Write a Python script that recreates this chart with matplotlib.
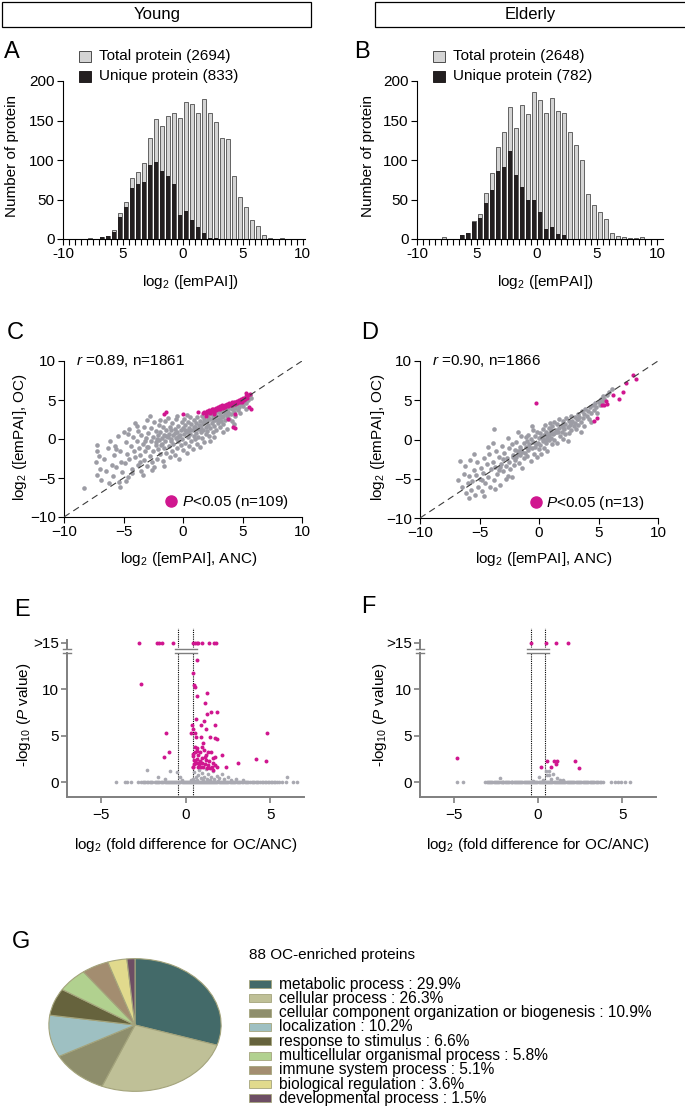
import matplotlib
matplotlib.use("Agg")
import matplotlib.pyplot as plt
import numpy as np
from matplotlib.patches import Rectangle
from matplotlib.lines import Line2D

plt.rcParams['font.family'] = ['Liberation Sans', 'DejaVu Sans']
plt.rcParams['mathtext.fontset'] = 'custom'
plt.rcParams['mathtext.rm'] = 'Liberation Sans'
plt.rcParams['mathtext.it'] = 'Liberation Sans:italic'
plt.rcParams['font.size'] = 11

NARROW = ['Liberation Sans Narrow', 'Liberation Sans', 'DejaVu Sans']

# ---------------- data ----------------
bin_centers = [-7.75, -7.25, -6.75, -6.25, -5.75, -5.25, -4.75, -4.25, -3.75, -3.25,
               -2.75, -2.25, -1.75, -1.25, -0.75, -0.25, 0.25, 0.75, 1.25, 1.75,
               2.25, 2.75, 3.25, 3.75, 4.25, 4.75, 5.25, 5.75, 6.25, 6.75,
               7.25, 7.75, 8.25, 8.75]
young_total = [1, 0, 3, 4, 12, 33, 47, 77, 85, 96, 128, 152, 143, 156, 159, 153, 173, 171,
               160, 177, 160, 148, 128, 126, 80, 53, 40, 24, 17, 5, 1, 0, 1, 0]
young_unique = [0, 0, 3, 4, 9, 28, 40, 64, 69, 72, 94, 98, 86, 80, 70, 31, 36, 24,
                15, 7, 1, 1, 0, 0, 0, 0, 0, 0, 0, 0, 0, 0, 0, 0]
old_total = [2, 0, 0, 5, 8, 23, 32, 58, 83, 117, 135, 167, 141, 169, 158, 186, 176, 160,
             178, 162, 160, 135, 119, 100, 57, 43, 34, 25, 8, 4, 2, 1, 1, 3]
old_unique = [0, 0, 0, 5, 7, 21, 27, 45, 62, 86, 91, 112, 81, 66, 50, 50, 34, 13,
              15, 6, 5, 0, 0, 0, 0, 0, 0, 0, 0, 0, 0, 0, 0, 0]
hist_xticklabels = ['-10', '5', '0', '5', '10']

# scatter C (young): grey cloud and significant points
young_gx = [-8.3, -7.2, -7.2, -7.1, -7.3, -7.0, -7.2, -6.9, -6.6, -6.5, -6.3, -6.2, -6.0, -6.1,
            -5.9, -5.8, -5.7, -5.6, -5.5, -5.4, -5.3, -5.2, -5.1, -5.0, -5.6, -5.3,
            -4.9, -4.8, -4.7, -4.6, -4.5, -4.5, -4.4, -4.3, -4.2, -4.1, -4.0, -4.0, -4.8, -4.3, -4.6,
            -3.9, -3.8, -3.8, -3.7, -3.6, -3.5, -3.5, -3.4, -3.3, -3.3, -3.2, -3.1, -3.0, -3.0, -3.6,
            -3.9, -3.2, -3.4,
            -2.9, -2.9, -2.8, -2.7, -2.7, -2.6, -2.5, -2.5, -2.4, -2.3, -2.3, -2.2, -2.1, -2.1, -2.0,
            -2.0, -2.6, -2.8, -2.4, -2.2,
            -1.9, -1.9, -1.8, -1.8, -1.7, -1.7, -1.6, -1.6, -1.5, -1.5, -1.4, -1.4, -1.3, -1.3, -1.2,
            -1.2, -1.1, -1.1, -1.0, -1.0, -1.6, -1.9,
            -0.9, -0.9, -0.8, -0.8, -0.7, -0.7, -0.6, -0.6, -0.5, -0.5, -0.4, -0.4, -0.3, -0.3, -0.2,
            -0.2, -0.1, -0.1, 0.0, 0.0, -0.5,
            0.1, 0.1, 0.2, 0.2, 0.3, 0.3, 0.4, 0.4, 0.5, 0.5, 0.6, 0.6, 0.7, 0.7, 0.8, 0.8, 0.9, 0.9,
            1.0, 1.0, 0.3,
            1.1, 1.1, 1.2, 1.2, 1.3, 1.3, 1.4, 1.4, 1.5, 1.5, 1.6, 1.6, 1.7, 1.7, 1.8, 1.8, 1.9, 1.9,
            2.0, 2.0,
            2.1, 2.1, 2.2, 2.2, 2.3, 2.4, 2.4, 2.5, 2.5, 2.6, 2.7, 2.7, 2.8, 2.8, 2.9, 3.0, 3.0, 2.3, 2.6,
            3.1, 3.1, 3.2, 3.3, 3.3, 3.4, 3.5, 3.5, 3.6, 3.7, 3.7, 3.8, 3.9, 3.9, 4.0, 3.4,
            4.1, 4.1, 4.2, 4.3, 4.4, 4.4, 4.5, 4.6, 4.7, 4.7, 4.8, 4.9, 5.0, 5.0, 4.3,
            5.1, 5.2, 5.3, 5.4, 5.5, 5.6, 5.3, 5.7,
            -1.45, -0.65, 0.15, 0.95, 1.75, 2.55, 3.35, -2.25, -3.05, -0.25, 0.55, 1.35, 2.15,
            -1.05, -1.85, 2.95, 3.75, 0.35, 1.55, -0.45]
young_gy = [-6.3, -0.8, -1.5, -2.2, -3.0, -3.8, -4.6, -5.2, -2.6, -4.1, -1.2, -5.6, -3.3, -0.2,
            -4.8, -2.1, -0.9, -3.6, 0.4, -5.5, -1.6, -2.9, -4.2, 0.9, -1.3, -6.1,
            -3.1, -0.4, -1.9, -4.9, 1.3, -2.6, -0.9, -3.8, 0.3, -1.5, -2.3, 2.1, -5.4, -4.4, 0.6,
            -0.2, -3.3, 1.0, -1.2, -2.0, 0.5, -4.1, -0.7, 1.6, -2.7, -1.6, 0.1, -3.5, 2.4, -2.9,
            1.7, -0.3, -4.6,
            -1.0, 0.8, -2.2, 1.4, -0.3, -3.0, 0.2, -1.6, 2.2, -0.8, 1.0, -2.5, 0.5, -1.3, 1.8,
            -0.1, -4.0, 2.9, -3.6, 0.0,
            -1.9, 0.9, 0.1, -0.7, 1.5, -2.8, 0.5, -1.2, 2.3, -0.3, 1.1, -1.8, 0.2, 2.7, -0.9,
            0.7, 1.6, -2.3, 0.0, 1.2, -3.5, 2.5,
            -1.5, 2.0, 0.5, -0.6, 1.3, -2.0, 0.1, 2.6, 0.9, -1.1, 1.7, -0.3, 0.4, -2.6, 1.1,
            -0.8, 2.2, 0.0, 1.4, -1.4, 3.0,
            0.6, 2.6, -0.5, 1.8, 1.0, -1.8, 0.2, 2.2, 1.4, -0.9, 0.7, 2.8, 1.9, -0.2, 1.2, -1.3, 2.4, 0.4,
            1.6, 0.0, 3.1,
            2.0, 0.8, -0.6, 2.8, 1.3, 0.3, 2.3, -1.0, 1.7, 0.9, 2.9, 0.1, 2.1, 1.2, -0.4, 2.6, 1.6, 0.6,
            2.3, 1.0,
            3.0, 1.8, 0.4, 2.6, 1.4, 3.2, 2.1, 0.9, 2.8, 1.7, 3.3, 2.4, 1.2, 3.0, 2.0, 3.5, 2.6, -0.2, 0.3,
            1.6, 3.1, 2.3, 3.6, 2.8, 1.9, 3.3, 2.5, 3.9, 2.9, 1.3, 3.5, 2.6, 4.0, 3.2, 0.9,
            3.8, 2.3, 4.2, 3.4, 4.0, 2.9, 4.4, 3.7, 4.6, 4.1, 3.3, 4.5, 4.9, 4.2, 1.9,
            4.7, 5.1, 4.6, 5.3, 5.0, 5.6, 3.9, 5.2,
            0.4, 0.8, 1.2, 1.6, 2.2, 2.4, 3.0, -0.4, -1.0, 0.5, 1.1, 1.8, 2.6,
            -0.3, -0.8, 2.4, 3.2, 0.9, 1.3, 0.3]
young_sx = [1.7, 1.8, 1.9, 2.0, 2.1, 2.2, 2.25, 2.3, 2.4, 2.5, 2.55, 2.6, 2.7, 2.75, 2.8, 2.9,
            2.95, 3.0, 3.1, 3.15, 3.2, 3.3, 3.35, 3.4, 3.5, 3.55, 3.6, 3.7, 3.75, 3.8, 3.9, 3.95,
            4.0, 4.1, 4.15, 4.2, 4.3, 4.35, 4.4, 4.5, 4.55, 4.6, 4.7, 4.75, 4.8, 4.9, 4.95, 5.0,
            5.1, 5.2, 5.25, 5.3, 5.4, 5.5, 5.6,
            -1.4, -1.6, 0.0, 1.3, 4.4, 3.8, 4.2, 4.4, 5.55, 5.7, 5.3, 1.9, 2.6]
young_sy = [3.3, 3.5, 3.2, 3.6, 3.4, 3.7, 3.3, 3.5, 3.8, 3.6, 3.9, 3.5, 3.8, 4.0, 3.7, 4.1,
            3.8, 4.0, 4.2, 3.9, 4.1, 4.3, 4.0, 4.2, 4.4, 4.1, 4.3, 4.5, 4.2, 4.4, 4.6, 4.3,
            4.5, 4.7, 4.4, 4.6, 4.8, 4.5, 4.7, 4.9, 4.6, 4.8, 5.0, 4.7, 4.9, 5.1, 4.8, 5.2,
            5.0, 5.3, 5.1, 5.5, 5.2, 5.6, 5.8,
            3.5, 3.2, 3.15, 3.4, 3.15, 2.6, 1.6, 1.4, 4.05, 3.8, 5.9, 3.0, 3.2]

# scatter D (elderly)
old_gx = [-6.8, -6.5, -6.3, -6.1, -6.0, -6.6, -6.2,
          -5.9, -5.8, -5.7, -5.6, -5.5, -5.4, -5.3, -5.2, -5.1, -5.0, -5.5, -5.9,
          -4.9, -4.8, -4.7, -4.6, -4.5, -4.4, -4.3, -4.2, -4.1, -4.0, -4.6, -4.3, -4.8,
          -3.9, -3.8, -3.7, -3.6, -3.5, -3.4, -3.3, -3.2, -3.1, -3.0, -3.0, -3.7, -3.4, -3.9, -3.8,
          -2.9, -2.8, -2.7, -2.6, -2.5, -2.5, -2.4, -2.3, -2.2, -2.1, -2.0, -2.0, -2.6, -2.8, -2.3,
          -1.9, -1.9, -1.8, -1.7, -1.6, -1.6, -1.5, -1.5, -1.4, -1.3, -1.3, -1.2, -1.1, -1.1, -1.0,
          -1.0, -1.8,
          -0.9, -0.9, -0.8, -0.7, -0.7, -0.6, -0.5, -0.5, -0.4, -0.3, -0.3, -0.2, -0.2, -0.1, 0.0,
          0.0, -0.6,
          0.1, 0.1, 0.2, 0.2, 0.3, 0.3, 0.4, 0.4, 0.5, 0.5, 0.6, 0.6, 0.7, 0.7, 0.8, 0.8, 0.9, 0.9,
          1.0, 1.0,
          1.1, 1.1, 1.2, 1.3, 1.3, 1.4, 1.5, 1.5, 1.6, 1.7, 1.7, 1.8, 1.9, 1.9, 2.0, 2.0,
          2.1, 2.2, 2.2, 2.3, 2.4, 2.5, 2.5, 2.6, 2.7, 2.7, 2.8, 2.9, 3.0, 3.0, 2.4,
          3.1, 3.2, 3.3, 3.3, 3.4, 3.5, 3.6, 3.7, 3.8, 3.8, 3.9, 4.0, 3.5,
          4.1, 4.2, 4.3, 4.4, 4.5, 4.6, 4.7, 4.8, 4.9, 5.0, 5.1, 5.2, 5.3, 5.4, 5.5, 5.7, 5.9,
          6.1, 4.4,
          -2.15, -1.45, -0.85, -0.25, 0.35, 0.85, 1.45, 2.05, 2.65, 3.25, -3.25, -1.75, 0.65, 1.25]
old_gy = [-5.2, -6.0, -4.4, -6.8, -5.6, -2.8, -3.4,
          -4.7, -2.6, -6.4, -5.3, -3.9, -7.1, -4.5, -2.9, -6.0, -5.0, -1.9, -7.4,
          -3.6, -6.6, -4.3, -2.4, -5.5, -3.1, -4.8, -1.8, -6.1, -3.8, -7.2, -0.9, -5.1,
          -2.9, -5.2, -3.5, -1.5, -4.4, -2.2, -5.8, -3.1, -0.8, -4.0, -2.5, -6.3, -3.9, -0.5, 1.3,
          -1.7, -3.4, -2.3, -4.6, -1.1, -2.9, -3.8, -0.6, -2.0, -3.2, -1.4, -2.6, 0.2, -5.0, -4.8,
          -0.3, -2.2, -1.5, -3.0, -0.9, -2.0, 0.4, -1.3, -3.6, -2.4, -0.5, -1.7, 0.3, -1.0, -2.1,
          -0.2, 1.0,
          -1.4, 0.6, -0.6, -2.7, 0.1, -1.1, 1.2, -0.3, -1.8, 0.4, -0.9, -2.2, 0.9, -0.4, 0.2,
          -1.2, 1.7,
          0.8, -0.7, -1.9, 0.3, 1.4, -0.2, -1.1, 0.6, 1.9, 0.0, -0.5, 1.0, -1.5, 0.4, 1.5, -0.1, 0.8, 2.1,
          0.2, 1.2,
          -0.6, 1.7, 0.7, 2.2, 0.0, 1.2, -0.4, 2.0, 0.9, 1.5, 2.6, 0.4, 1.9, 1.0, 2.4, 0.1,
          1.4, 2.0, 0.7, 2.8, 1.6, 2.3, 0.8, 1.9, 3.0, 1.2, 2.4, 1.7, 2.9, 2.1, -0.2,
          1.4, 2.6, 3.3, 1.9, 2.9, 2.2, 3.6, 2.8, 3.3, 1.7, 3.9, 3.0, 0.9,
          3.6, 2.6, 4.1, 3.4, 4.4, 3.8, 4.7, 4.2, 3.4, 4.8, 4.4, 5.2, 4.8, 5.5, 5.1, 5.7, 6.0,
          6.4, 2.2,
          -2.2, -1.6, -0.9, -0.6, 0.1, 0.6, 1.0, 1.6, 2.1, 2.6, -3.5, -1.9, 0.1, 0.8]
old_sx = [-0.25, 7.9, 8.15, 7.3, 7.1, 6.7, 6.2, 5.6, 5.5, 5.3, 4.9, 4.6, 5.7]
old_sy = [4.67, 8.2, 7.7, 7.2, 6.1, 5.1, 5.7, 4.9, 4.4, 4.4, 2.8, 2.3, 4.5]
identity = [-10, 10]

# volcano E (young)
fold_cut = 0.42
young_row_x = [-4.1, -3.6, -3.45, -3.2, -2.8, -2.65, -2.5, -2.43, -2.38, -2.3, -2.2, -2.1, -2.03,
               -1.95, -1.83, -1.76, -1.7, -1.62, -1.55, -1.47, -1.38, -1.3, -1.23, -1.18, -1.1,
               -1.05, -0.98, -0.92, -0.86, -0.8, -0.72, -0.66, -0.6, -0.55, -0.48, -0.41, -0.36,
               -0.3, -0.23, -0.17, -0.11, -0.05, 0.02, 0.08, 0.13, 0.19, 0.25, 0.31, 0.37, 0.44,
               0.5, 0.55, 0.61, 0.68, 0.73, 0.79, 0.85, 0.91, 0.97, 1.04, 1.1, 1.15, 1.21, 1.28,
               1.33, 1.39, 1.45, 1.52, 1.58, 1.63, 1.7, 1.77, 1.83, 1.88, 1.95, 2.01, 2.07, 2.14,
               2.2, 2.26, 2.33, 2.4, 2.47, 2.53, 2.6, 2.67, 2.73, 2.8, 2.88, 2.95, 3.03,
               3.1, 3.17, 3.24, 3.33, 3.41, 3.49, 3.57, 3.64, 3.72, 3.81, 3.9, 3.97, 4.05, 4.14,
               4.23, 4.31, 4.4, 4.49, 4.58, 4.67, 4.77, 4.86, 4.95, 5.03, 5.12, 5.21,
               5.3, 5.4, 5.5, 5.72, 5.95, 6.35, 6.6]
young_low_x = [0.45, 0.6, 0.75, 0.9, 1.0, 1.1, 1.25, 1.35, 1.5, 1.6, 1.7, 1.85, 2.0, 2.15,
               2.3, 2.5, 2.7, 0.5, 0.8, 1.2, -0.3, -0.5, -0.9, -2.3, -1.6, -1.2, 3.0, 3.4, 6.0,
               0.3, 0.55, 1.45, 1.9, -0.2, 0.7, 1.05]
young_low_y = [0.3, 0.5, 0.8, 0.4, 1.0, 0.6, 0.3, 0.9, 0.5, 1.2, 0.3, 0.7, 0.4, 0.9,
               0.3, 0.5, 0.2, 1.1, 1.3, 1.4, 0.6, 1.1, 1.2, 1.3, 0.6, 0.3, 0.3, 0.2, 0.6,
               0.2, 0.15, 0.2, 0.15, 0.2, 0.2, 0.25]
young_top_x = [-2.74, -1.70, -1.56, -1.40, -0.72, 0.46, 0.56, 0.66, 0.76, 0.99, 1.40, 1.70, 1.82]
young_hit_x = [0.70, -2.64, 0.42, 0.50, 0.54, 1.29, 0.68, 1.17, 1.84, 1.29, 1.50, 0.62, 1.07,
               0.89, 1.19, 0.40, 1.74, 0.44, 0.30, 0.56, -1.15, 4.84, 0.60, 0.93, 1.42, 1.76,
               1.88, 1.05, 0.58, 0.70, 1.09, 0.54, 0.85, 1.33, 1.48, -0.95, 2.13, 1.74, -1.25,
               0.42, 0.76, 1.17, 0.48, 0.60, 0.74, 0.95, 1.19, 1.39, 1.62, 4.14, 3.13, 4.78,
               0.44, 0.46, 0.72, 0.89, 1.05, 1.25, 1.54, 1.74, 1.64, 1.84,
               0.5, 0.65, 0.8, 1.0, 1.15, 1.3, 0.45, 0.7, 0.95, 1.6, 1.45, 0.55, 0.85, 1.2, 2.4]
young_hit_y = [13.1, 10.6, 11.8, 10.5, 10.2, 9.6, 9.3, 8.5, 7.6, 7.3, 7.5, 6.8, 6.6,
               6.1, 5.7, 6.1, 6.1, 5.7, 5.3, 5.3, 5.3, 5.3, 4.9, 4.9, 4.9, 4.7,
               4.6, 4.2, 3.8, 3.7, 3.5, 3.2, 3.2, 3.2, 3.2, 3.2, 2.9, 2.7, 2.7,
               2.8, 2.9, 2.7, 2.4, 2.1, 2.1, 2.1, 2.4, 2.3, 2.1, 2.5, 2.1, 2.3,
               1.6, 1.6, 1.6, 1.6, 1.6, 1.5, 1.6, 1.8, 1.3, 1.6,
               1.9, 2.5, 1.9, 2.6, 2.0, 1.8, 3.0, 3.4, 3.8, 2.6, 1.5, 2.3, 2.3, 2.9, 1.6]

# volcano F (elderly)
old_row_x = [-4.81, -4.46, -3.14, -3.05, -2.98, -2.9, -2.85, -2.77, -2.7, -2.63, -2.58, -2.5,
             -2.43, -2.36, -2.3, -2.22, -2.16, -2.1, -2.05, -1.97, -1.9, -1.84, -1.78, -1.7,
             -1.63, -1.57, -1.52, -1.45, -1.38, -1.31, -1.25, -1.18, -1.12, -1.05, -0.98,
             -0.92, -0.86, -0.8, -0.73, -0.66, -0.6, -0.54, -0.48, -0.41, -0.35, -0.28, -0.22,
             -0.16, -0.1, -0.04, 0.03, 0.09, 0.16, 0.22, 0.28, 0.35, 0.41, 0.47, 0.53, 0.6,
             0.67, 0.73, 0.79, 0.86, 0.92, 0.98, 1.05, 1.11, 1.18, 1.24, 1.3, 1.37, 1.44, 1.5,
             1.57, 1.63, 1.7, 1.77, 1.83, 1.9, 1.96, 2.03, 2.1, 2.16, 2.23, 2.3, 2.37, 2.43,
             2.5, 2.57, 2.64, 2.71, 2.78, 2.85, 2.92, 2.99, 3.06, 3.13, 3.2, 3.28, 3.35, 3.42,
             3.5, 3.58, 3.66, 3.76, 3.87, 4.36, 4.55, 4.74, 4.92, 5.15, 5.44]
old_low_x = [-2.23, 0.08, 0.45, 0.65, 0.55, 0.68, 0.91, 1.12, 1.3, 1.5, 0.3, 0.8, -0.3]
old_low_y = [0.4, 0.57, 1.2, 1.2, 0.8, 0.8, 0.9, 0.4, 0.25, 0.25, 0.2, 0.3, 0.15]
old_top_x = [-0.40, 0.47, 1.07, 1.76]
old_hit_x = [-4.81, 0.18, 0.53, 0.77, 0.93, 1.12, 1.07, 2.21, 2.43]
old_hit_y = [2.6, 1.58, 2.26, 1.58, 2.26, 2.26, 1.9, 2.26, 1.47]

# pie G
go_terms = ['metabolic process', 'cellular process',
            'cellular component organization or biogenesis', 'localization',
            'response to stimulus', 'multicellular organismal process',
            'immune system process', 'biological regulation', 'developmental process']
go_pct = [29.9, 26.3, 10.9, 10.2, 6.6, 5.8, 5.1, 3.6, 1.5]
go_colors = ['#436a69', '#bfc097', '#8e8e6c', '#9ec0c2', '#66633d', '#b1d18f',
             '#a38d70', '#e1da8d', '#6d4e64']

GREY = '#9c9ca4'
LGREY = '#a9a9b1'
MAG = '#d0168f'

# ---------------- layout helpers ----------------
W, H = 685, 1109
fig = plt.figure(figsize=(W / 100, H / 100), dpi=100)


def box(x0, y0, x1, y1):
    return [x0 / W, 1 - y1 / H, (x1 - x0) / W, (y1 - y0) / H]


def fx(x):
    return x / W


def fy(y):
    return 1 - y / H


def clean(ax):
    ax.spines['top'].set_visible(False)
    ax.spines['right'].set_visible(False)
    ax.tick_params(direction='out', length=4, width=0.8, labelsize=11, pad=2)


# header boxes
for (x0, x1, cx, name) in [(2, 311, 157, 'Young'), (375, 690, 530, 'Elderly')]:
    fig.add_artist(Rectangle((fx(x0), fy(27)), (x1 - x0) / W, 25 / H,
                             transform=fig.transFigure, facecolor='white',
                             edgecolor='black', linewidth=0.9))
    fig.text(fx(cx), fy(14), name, ha='center', va='center', fontsize=12)

# panel letters
for (x, y, s) in [(4, 52, 'A'), (354, 52, 'B'), (7, 333, 'C'), (361, 333, 'D'),
                  (14, 610, 'E'), (361, 607, 'F'), (12, 942, 'G')]:
    fig.text(fx(x), fy(y), s, ha='left', va='center', fontsize=17)


# ---------------- A / B histograms ----------------
def hist_panel(rect, total, unique, n_total, n_unique, lx, ylab_x):
    ax = fig.add_axes(box(*rect))
    ax.bar(bin_centers, total, width=0.34, color='#d4d4d4', edgecolor='#4d4d4d',
           linewidth=0.6, zorder=2)
    ax.bar(bin_centers, unique, width=0.34, color='#231f20', edgecolor='none', zorder=3)
    ax.set_xlim(-10, 10.2)
    ax.set_ylim(0, 200)
    clean(ax)
    ax.set_xticks([-10, -5, 0, 5, 10])
    ax.set_xticklabels(hist_xticklabels)
    ax.set_xticks(np.arange(-10, 10.01, 0.5), minor=True)
    ax.tick_params(axis='x', which='minor', length=4, width=0.8)
    ax.set_yticks([0, 50, 100, 150, 200])
    # legend
    for i, (fc, ec, lab) in enumerate([('#d4d4d4', '#4d4d4d', f'Total protein ({n_total})'),
                                       ('#231f20', '#231f20', f'Unique protein ({n_unique})')]):
        yy = 56 + i * 20
        fig.add_artist(Rectangle((fx(lx), fy(yy + 6)), 12 / W, 11 / H, transform=fig.transFigure,
                                 facecolor=fc, edgecolor=ec, linewidth=0.7))
        fig.text(fx(lx + 20), fy(yy), lab, ha='left', va='center', fontsize=11)
    fig.text(fx(ylab_x), fy(156), 'Number of protein', rotation=90,
             ha='center', va='center', fontsize=11)
    return ax


axA = hist_panel((63, 81, 305, 239), young_total, young_unique, 2694, 833, 79, 12)
axB = hist_panel((417, 81, 663, 239), old_total, old_unique, 2648, 782, 433, 368)
axB.set_xlim(-10, 10.5)
fig.text(fx(190), fy(282), 'log$_2$ ([emPAI])', ha='center', va='center', fontsize=11)
fig.text(fx(545), fy(282), 'log$_2$ ([emPAI])', ha='center', va='center', fontsize=11)


# ---------------- C / D scatter ----------------
def scatter_panel(rect, gx, gy, sx, sy, rtxt, ntxt, ylab_x):
    ax = fig.add_axes(box(*rect))
    ax.scatter(gx, gy, s=11, color=GREY, linewidths=0, zorder=2)
    ax.scatter(sx, sy, s=9, color=MAG, linewidths=0, zorder=3)
    ax.plot(identity, identity, ls=(0, (6, 4)), color='#3c3c3c', lw=0.8, zorder=4)
    ax.set_xlim(-10, 10)
    ax.set_ylim(-10, 10)
    clean(ax)
    ax.set_xticks([-10, -5, 0, 5, 10])
    ax.set_yticks([-10, -5, 0, 5, 10])
    ax.text(0.05, 1.0, rtxt, transform=ax.transAxes, ha='left', va='center', fontsize=11)
    h = Line2D([], [], marker='o', ls='', color=MAG, markersize=8)
    ax.legend([h], [ntxt], loc='lower right', bbox_to_anchor=(0.99, -0.03), frameon=False,
              handletextpad=0.1, borderpad=0.2, handlelength=1.2, fontsize=11)
    fig.text(fx(ylab_x), fy(437), 'log$_2$ ([emPAI], OC)', rotation=90,
             ha='center', va='center', fontsize=11)
    return ax


scatter_panel((64, 361, 302, 517), young_gx, young_gy, young_sx, young_sy,
              '$r$ =0.89, n=1861', '$P$<0.05 (n=109)', 20)
scatter_panel((420, 361, 658, 518), old_gx, old_gy, old_sx, old_sy,
              '$r$ =0.90, n=1866', '$P$<0.05 (n=13)', 378)
fig.text(fx(189), fy(559), 'log$_2$ ([emPAI], ANC)', ha='center', va='center', fontsize=11)
fig.text(fx(544), fy(559), 'log$_2$ ([emPAI], ANC)', ha='center', va='center', fontsize=11)


# ---------------- E / F volcano ----------------
AXC = '#7f7f7f'


def volcano_panel(x0, x1, row_x, low_x, low_y, top_x, hit_x, hit_y, ylab_x):
    lo = fig.add_axes(box(x0, 653, x1, 797))
    up = fig.add_axes(box(x0, 640, x1, 648.3))
    for ax in (lo, up):
        ax.set_xlim(-7, 7)
        ax.patch.set_visible(False)
        for s in ('top', 'right'):
            ax.spines[s].set_visible(False)
        ax.spines['left'].set_color(AXC)
        ax.spines['left'].set_linewidth(1.4)
        ax.tick_params(axis='y', colors=AXC, labelcolor='black', length=4, width=1.2,
                       labelsize=11, pad=2)
    up.spines['bottom'].set_visible(False)
    up.set_xticks([])
    up.set_ylim(14.4, 15.3)
    up.set_yticks([15])
    up.set_yticklabels(['>15'])
    lo.set_ylim(-1.6, 13.9)
    lo.set_yticks([0, 5, 10])
    lo.spines['bottom'].set_color(AXC)
    lo.spines['bottom'].set_linewidth(1.4)
    lo.set_xticks([-5, 0, 5])
    lo.tick_params(axis='x', colors=AXC, labelcolor='black', length=4, width=1.2,
                   labelsize=11, pad=4)
    lo.scatter(row_x, [0] * len(row_x), s=7, color=LGREY, linewidths=0, zorder=2)
    lo.scatter(low_x, low_y, s=7, color=LGREY, linewidths=0, zorder=2)
    lo.scatter(hit_x, hit_y, s=8, color=MAG, linewidths=0, zorder=3)
    up.scatter(top_x, [15] * len(top_x), s=8, color=MAG, linewidths=0, zorder=3, clip_on=False)
    for c in (-fold_cut, fold_cut):
        lo.plot([c, c], [-1.6, 16.6], ls=(0, (1, 1)), color='black', lw=0.8,
                clip_on=False, zorder=1)
    # break marks
    cx = (x0 + x1) / 2
    bx0, bx1 = cx - 11, cx + 11
    fig.add_artist(Rectangle((fx(bx0), fy(653)), (bx1 - bx0) / W, 5 / H, transform=fig.transFigure,
                             facecolor='white', edgecolor='none', zorder=5))
    for yy in (648.6, 652.6):
        fig.add_artist(Line2D([fx(bx0), fx(bx1)], [fy(yy), fy(yy)], transform=fig.transFigure,
                              color=AXC, lw=1.0, zorder=6))
        fig.add_artist(Line2D([fx(x0 - 4), fx(x0 + 4)], [fy(yy), fy(yy)], transform=fig.transFigure,
                              color=AXC, lw=1.0, zorder=6))
    fig.text(fx(ylab_x), fy(715), '-log$_{10}$ ($P$ value)', rotation=90,
             ha='center', va='center', fontsize=11)
    fig.text(fx((x0 + x1) / 2), fy(845), 'log$_2$ (fold difference for OC/ANC)',
             ha='center', va='center', fontsize=11, family=NARROW)
    return lo


volcano_panel(67, 304, young_row_x, young_low_x, young_low_y, young_top_x,
              young_hit_x, young_hit_y, 24)
volcano_panel(420, 656, old_row_x, old_low_x, old_low_y, old_top_x,
              old_hit_x, old_hit_y, 380)

# ---------------- G pie ----------------
axp = fig.add_axes(box(48, 958, 222, 1092))
wedges, _ = axp.pie(go_pct, colors=go_colors, startangle=90, counterclock=False,
                    wedgeprops=dict(edgecolor='#a4a47c', linewidth=0.8))
axp.set_aspect('auto')
axp.set_xlim(-1.01, 1.01)
axp.set_ylim(-1.01, 1.01)

fig.text(fx(249), fy(955), '88 OC-enriched proteins', ha='left', va='center',
         fontsize=11, family=NARROW)
for i, (t, p, c) in enumerate(zip(go_terms, go_pct, go_colors)):
    yy = 984 + i * 14.3
    fig.add_artist(Rectangle((fx(249), fy(yy + 4)), 22 / W, 8 / H, transform=fig.transFigure,
                             facecolor=c, edgecolor='#a4a47c', linewidth=0.6))
    fig.text(fx(279), fy(yy), f'{t} : {p}%', ha='left', va='center',
             fontsize=11.2, family=NARROW)

fig.savefig('out.png', dpi=100)
